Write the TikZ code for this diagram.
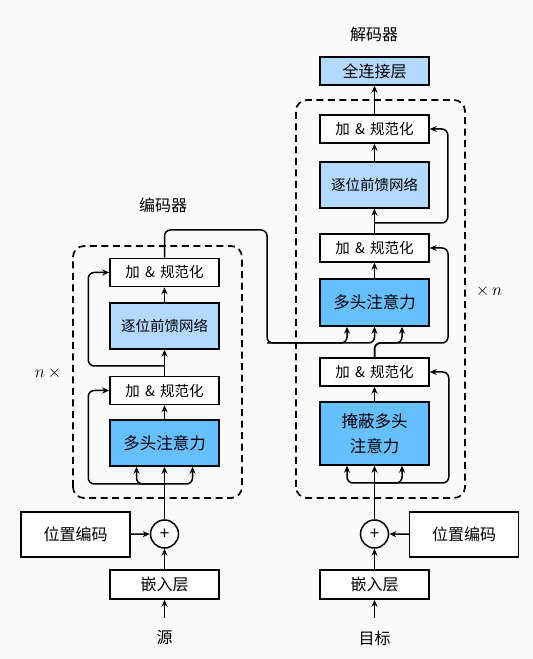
\documentclass[tikz,border=0pt]{standalone}
\usepackage{fontspec}
\setmainfont{Noto Sans CJK SC}
\usetikzlibrary{arrows.meta}

\definecolor{ffnblue}{HTML}{B3D9FF}
\definecolor{attnblue}{HTML}{66BFFF}
\definecolor{bggray}{HTML}{FAFAFA}

\newcommand{\addnormtext}{加\hspace{0.35em}\&\hspace{0.35em}规范化}

\tikzset{
  layer/.style={draw, line width=1.5pt, minimum width=109pt, inner sep=0pt, align=center},
  addnorm/.style={layer, fill=white, minimum height=28pt, font=\fontsize{14.5}{17}\selectfont},
  ffn/.style={layer, fill=ffnblue, minimum height=46pt, font=\fontsize{14.5}{17}\selectfont},
  attn/.style={layer, fill=attnblue, minimum height=46pt, font=\fontsize{16.5}{25}\selectfont},
  embed/.style={layer, fill=white, minimum height=29pt, font=\fontsize{16}{19}\selectfont},
  posenc/.style={layer, fill=white, minimum height=45pt, font=\fontsize{16}{19}\selectfont},
  plus/.style={circle, draw, line width=1.5pt, fill=white, minimum size=28pt, inner sep=0pt, font=\fontsize{17}{19}\selectfont},
  label/.style={font=\fontsize{16}{19}\selectfont},
  flow/.style={line width=1.5pt, -{Stealth[length=7pt,width=6pt]}, rounded corners=6pt},
  stack/.style={line width=1.7pt, dash pattern=on 7pt off 4.5pt, rounded corners=11pt}
}

\begin{document}
\begin{tikzpicture}[x=1pt,y=1pt]
% background
\fill[bggray] (0,0) rectangle (533,659);
\useasboundingbox (0,0) rectangle (533,659);

% Encoder stack
\draw[stack] (73,161) rectangle (242,413);
\node[label] (enctitle) at (163,454) {编码器};
\node[label] (encn) at (48,286) {$n\,\times$};
\node[attn] (encmha) at (164.5,216) {多头注意力};
\node[addnorm] (encan1) at (164.5,268.5) {\addnormtext};
\node[ffn] (encffn) at (164.5,333) {逐位前馈网络};
\node[addnorm] (encan2) at (164.5,386.5) {\addnormtext};

% Encoder input
\node[label] (encsrc) at (164.5,21) {源};
\coordinate (encin) at (164.5,41);
\node[embed] (encemb) at (164.5,74.5) {嵌入层};
\node[plus] (encplus) at (164.5,125) {+};
\node[posenc] (encpos) at (75.5,124.5) {位置编码};

\coordinate (encsplit) at (164.5,175);
\coordinate (encsplit2) at (164.5,293);

\draw[flow] (encin) -- (encemb);
\draw[flow] (encemb) -- (encplus);
\draw[flow] (encpos) -- (encplus);
\draw[flow] (encplus) -- (encmha);
\draw[flow] (encsplit) -| ([xshift=-28pt]encmha.south);
\draw[flow] (encsplit) -| ([xshift=28pt]encmha.south);
\draw[flow] (encsplit) -| ([xshift=-21pt]encan1.west) -- (encan1.west);
\draw[flow] (encmha) -- (encan1);
\draw[flow] (encan1) -- (encffn);
\draw[flow] (encsplit2) -| ([xshift=-21pt]encan2.west) -- (encan2.west);
\draw[flow] (encffn) -- (encan2);

% Decoder stack
\draw[stack] (296,161) rectangle (465,559);
\node[label] (dectitle) at (374,625) {解码器};
\node[label] (decn) at (489,368) {$\times\, n$};
\node[attn, minimum height=63pt] (decmask) at (374.5,225.5) {掩蔽多头\\注意力};
\node[addnorm] (decan1) at (374.5,287) {\addnormtext};
\node[attn, minimum height=47pt] (decmha) at (374.5,356.5) {多头注意力};
\node[addnorm] (decan2) at (374.5,411) {\addnormtext};
\node[ffn] (decffn) at (374.5,474) {逐位前馈网络};
\node[addnorm] (decan3) at (374.5,530) {\addnormtext};
\node[embed, fill=ffnblue, minimum height=28pt] (decfc) at (374.5,588) {全连接层};

% Decoder input
\node[label] (dectgt) at (374.5,21) {目标};
\coordinate (decin) at (374.5,41);
\node[embed] (decemb) at (374.5,74.5) {嵌入层};
\node[plus] (decplus) at (374.5,125) {+};
\node[posenc] (decpos) at (464,124.5) {位置编码};

\coordinate (decsplit) at (374.5,176);
\coordinate (decsplit2) at (448,316);
\coordinate (qturn) at (402,316);
\coordinate (decsplit3) at (374.5,436);

\draw[flow] (decin) -- (decemb);
\draw[flow] (decemb) -- (decplus);
\draw[flow] (decpos) -- (decplus);
\draw[flow] (decplus) -- (decmask);
\draw[flow] (decsplit) -| ([xshift=-27.5pt]decmask.south);
\draw[flow] (decsplit) -| ([xshift=27.5pt]decmask.south);
\draw[flow] (decsplit) -| ([xshift=19pt]decan1.east) -- (decan1.east);
\draw[flow] (decmask) -- (decan1);
\draw[flow] (decan1.north) |- (qturn) -- ([xshift=27.5pt]decmha.south);
\draw[flow] (decan1.north) |- (decsplit2) |- (decan2.east);
\draw[flow] (decmha) -- (decan2);
\draw[flow] (decan2) -- (decffn);
\draw[flow] (decsplit3) -| ([xshift=18pt]decan3.east) -- (decan3.east);
\draw[flow] (decffn) -- (decan3);
\draw[flow] (decan3) -- (decfc);

% Encoder output to decoder
\coordinate (encbend) at (267,429);
\coordinate (kvline) at (267,316);
\draw[flow] (encan2.north) |- (encbend) -- (kvline) -| ([xshift=-27.5pt]decmha.south);
\draw[flow] (kvline) -| (decmha.south);
\end{tikzpicture}
\end{document}
